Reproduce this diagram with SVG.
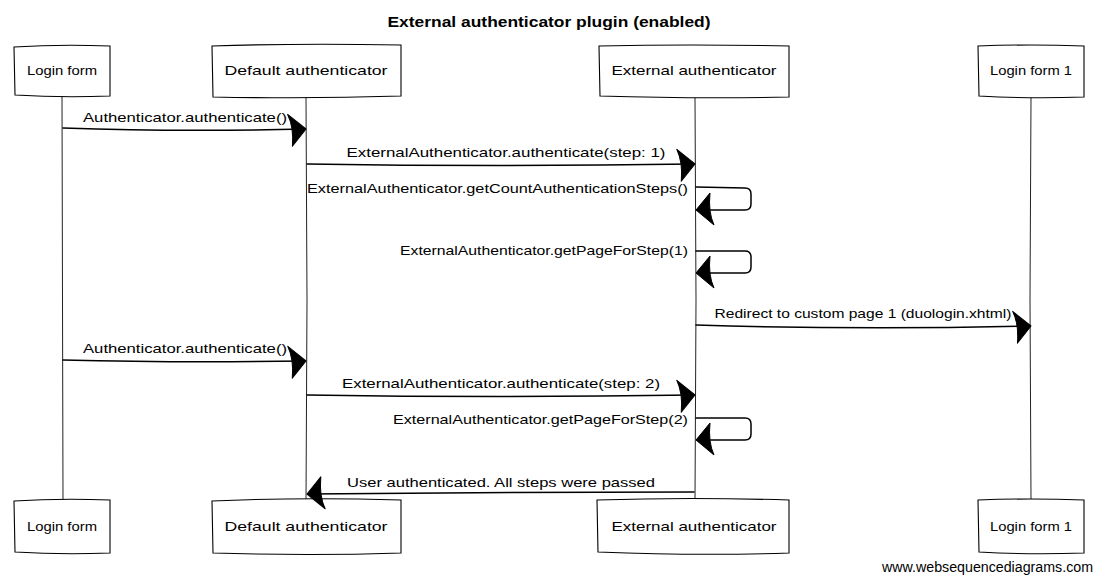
<svg xmlns="http://www.w3.org/2000/svg" width="1094" height="575" viewBox="0 0 1094 575">
<style>
.bg{fill:#fff}
.box{fill:#fff;stroke:#000;stroke-width:1.1}
.life{fill:none;stroke:#222;stroke-width:1}
.msg{fill:none;stroke:#000;stroke-width:1.5;stroke-linecap:round;stroke-linejoin:round}
.t{font-family:"Liberation Sans",Arial,sans-serif;font-size:13px;fill:#000}
.title{font-family:"Liberation Sans",Arial,sans-serif;font-size:14px;font-weight:bold;fill:#000}
.wm{font-family:"Liberation Sans",Arial,sans-serif;font-size:14px;fill:#000}
</style>
<defs>
<marker id="ah" markerUnits="userSpaceOnUse" markerWidth="40" markerHeight="40" viewBox="-20 -20 40 40" refX="0" refY="0" orient="auto" overflow="visible">
<path d="M1,0 L-17,-15 Q-11,-2 -13,17 Z" fill="#000" stroke="#000" stroke-width="1" stroke-linejoin="round"/>
</marker>
</defs>
<rect class="bg" x="0" y="0" width="1094" height="575"/>
<text class="title" x="549" y="27" text-anchor="middle" textLength="323" lengthAdjust="spacingAndGlyphs">External authenticator plugin (enabled)</text>

<g id="lifelines">
<path class="life" d="M62,96 L63,500"/>
<path class="life" d="M306,97 L307,300 L306,500"/>
<path class="life" d="M695,97 L696,300 L695,500"/>
<path class="life" d="M1031,97 L1030,300 L1031,500"/>
</g>

<g id="node-login-form-top">
<path class="box" d="M14,47 Q60,44 110,46 L110,96 Q62,98 15,95 Z"/>
<text class="t" x="62" y="75" text-anchor="middle" textLength="70" lengthAdjust="spacingAndGlyphs">Login form</text>
</g>
<g id="node-default-authenticator-top">
<path class="box" d="M212,46 Q300,43 401,45 L401,96 Q310,99 213,97 Z"/>
<text class="t" x="306" y="75" text-anchor="middle" textLength="163" lengthAdjust="spacingAndGlyphs">Default authenticator</text>
</g>
<g id="node-external-authenticator-top">
<path class="box" d="M599,46 Q690,44 789,46 L789,97 Q700,99 600,96 Z"/>
<text class="t" x="694" y="75" text-anchor="middle" textLength="165" lengthAdjust="spacingAndGlyphs">External authenticator</text>
</g>
<g id="node-login-form-1-top">
<path class="box" d="M978,46 Q1030,44 1084,46 L1084,97 Q1030,99 979,96 Z"/>
<text class="t" x="1031" y="75" text-anchor="middle" textLength="82" lengthAdjust="spacingAndGlyphs">Login form 1</text>
</g>

<g id="node-login-form-bottom">
<path class="box" d="M14,501 Q60,498 110,500 L110,553 Q62,555 15,552 Z"/>
<text class="t" x="62" y="531" text-anchor="middle" textLength="70" lengthAdjust="spacingAndGlyphs">Login form</text>
</g>
<g id="node-default-authenticator-bottom">
<path class="box" d="M212,501 Q300,497 401,500 L401,553 Q310,556 213,553 Z"/>
<text class="t" x="306" y="531" text-anchor="middle" textLength="163" lengthAdjust="spacingAndGlyphs">Default authenticator</text>
</g>
<g id="node-external-authenticator-bottom">
<path class="box" d="M597,500 Q690,497 789,500 L789,553 Q700,556 598,552 Z"/>
<text class="t" x="694" y="531" text-anchor="middle" textLength="165" lengthAdjust="spacingAndGlyphs">External authenticator</text>
</g>
<g id="node-login-form-1-bottom">
<path class="box" d="M978,500 Q1030,498 1084,500 L1084,553 Q1030,555 979,552 Z"/>
<text class="t" x="1031" y="531" text-anchor="middle" textLength="82" lengthAdjust="spacingAndGlyphs">Login form 1</text>
</g>

<g id="connectors">
<path class="msg" d="M63,128 Q180,132 305,129" marker-end="url(#ah)"/>
<path class="msg" d="M307,164 Q500,167 694,164" marker-end="url(#ah)"/>
<path class="msg" d="M696,187 L745,188 Q751,188 751,194 L751,204 Q751,210 745,210 L697,210" marker-end="url(#ah)"/>
<path class="msg" d="M696,251 L745,251 Q751,251 751,257 L751,267 Q751,273 745,273 L697,273" marker-end="url(#ah)"/>
<path class="msg" d="M696,325 Q860,330 1030,326" marker-end="url(#ah)"/>
<path class="msg" d="M63,360 Q180,363 305,361" marker-end="url(#ah)"/>
<path class="msg" d="M307,395 Q500,398 694,395" marker-end="url(#ah)"/>
<path class="msg" d="M696,418 L745,418 Q751,418 751,424 L751,434 Q751,440 745,440 L697,440" marker-end="url(#ah)"/>
<path class="msg" d="M694,492 Q500,492 308,494" marker-end="url(#ah)"/>
</g>

<g id="labels">
<text class="t" x="185" y="122" text-anchor="middle" textLength="204" lengthAdjust="spacingAndGlyphs">Authenticator.authenticate()</text>
<text class="t" x="506" y="157" text-anchor="middle" textLength="319" lengthAdjust="spacingAndGlyphs">ExternalAuthenticator.authenticate(step: 1)</text>
<text class="t" x="688" y="193" text-anchor="end" textLength="381" lengthAdjust="spacingAndGlyphs">ExternalAuthenticator.getCountAuthenticationSteps()</text>
<text class="t" x="688" y="255" text-anchor="end" textLength="288" lengthAdjust="spacingAndGlyphs">ExternalAuthenticator.getPageForStep(1)</text>
<text class="t" x="863" y="318" text-anchor="middle" textLength="297" lengthAdjust="spacingAndGlyphs">Redirect to custom page 1 (duologin.xhtml)</text>
<text class="t" x="185" y="353" text-anchor="middle" textLength="204" lengthAdjust="spacingAndGlyphs">Authenticator.authenticate()</text>
<text class="t" x="501" y="388" text-anchor="middle" textLength="318" lengthAdjust="spacingAndGlyphs">ExternalAuthenticator.authenticate(step: 2)</text>
<text class="t" x="688" y="424" text-anchor="end" textLength="295" lengthAdjust="spacingAndGlyphs">ExternalAuthenticator.getPageForStep(2)</text>
<text class="t" x="501" y="487" text-anchor="middle" textLength="308" lengthAdjust="spacingAndGlyphs">User authenticated. All steps were passed</text>
</g>

<text class="wm" x="1093" y="572" text-anchor="end" textLength="211" lengthAdjust="spacingAndGlyphs">www.websequencediagrams.com</text>
</svg>
